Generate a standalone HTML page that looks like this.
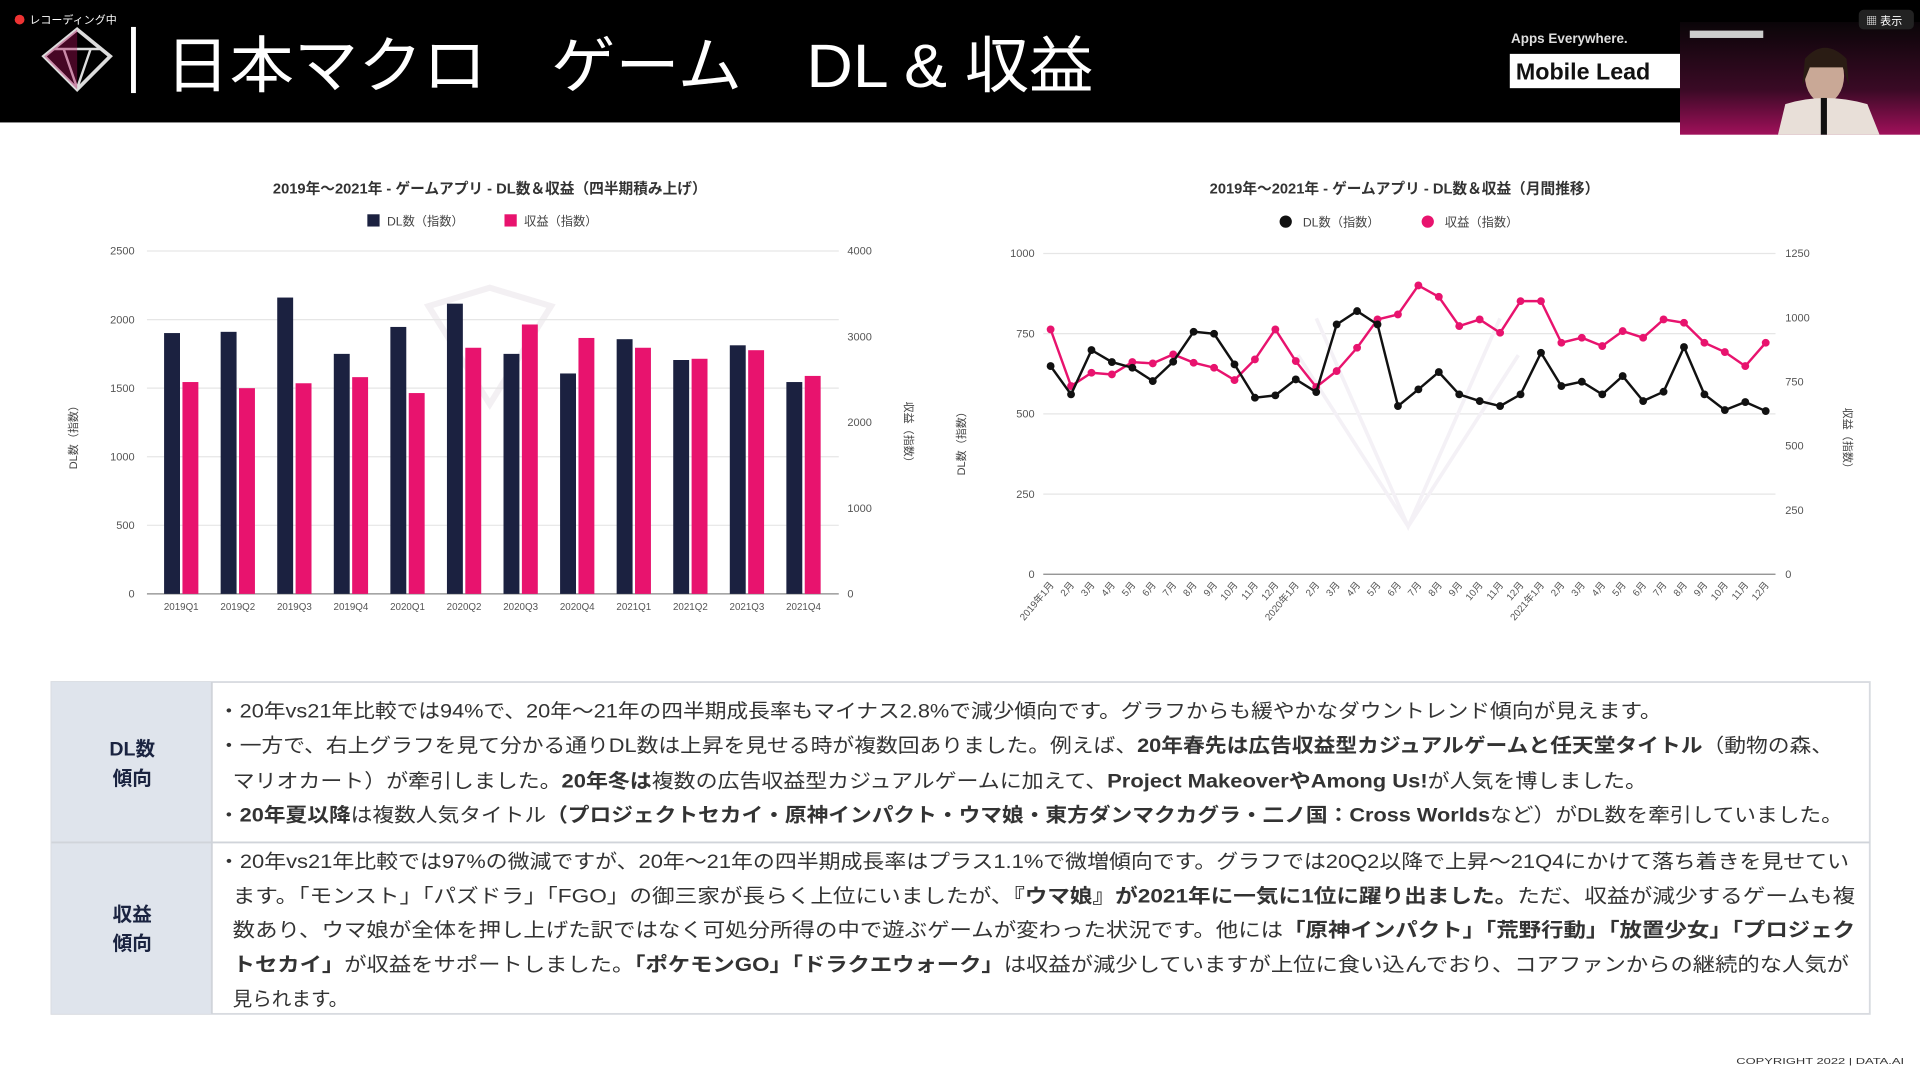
<!DOCTYPE html>
<html><head><meta charset="utf-8">
<style>
html,body{margin:0;padding:0;background:#fff;overflow:hidden}
svg{display:block}
text{font-family:"Liberation Sans","Noto Sans CJK JP",sans-serif}
</style></head>
<body>
<svg id="s" width="1920" height="1080" viewBox="0 0 1568 882" xmlns="http://www.w3.org/2000/svg">
<defs>
<linearGradient id="cam" x1="0" y1="0" x2="0" y2="1">
<stop offset="0" stop-color="#0a0508"/><stop offset="0.6" stop-color="#3a0a25"/><stop offset="1" stop-color="#a0105a"/>
</linearGradient>
</defs>
<rect x="0" y="0" width="1568" height="882" fill="#fff"/>
<rect x="0" y="0" width="1568" height="100" fill="#000"/>
<circle cx="16" cy="16" r="4" fill="#e33"/>
<text x="24" y="19" font-size="9" fill="#fff">レコーディング中</text>
<g fill="none" stroke="#ddd" stroke-width="3">
<polygon points="63,24 90,46 63,73 36,46"/>
<polyline points="44,40 82,40" stroke-width="2"/>
<polyline points="52,40 63,72 74,40" stroke-width="2"/>
</g>
<path d="M36,46 L63,24 L63,73 Z" fill="#b0105a" opacity="0.4"/>
<rect x="107" y="22" width="4" height="54" fill="#fff"/>
<text x="135" y="71" font-size="50" fill="#fff" textLength="758" lengthAdjust="spacingAndGlyphs">日本マクロ　ゲーム　DL &amp; 収益</text>
<text x="1234" y="35" font-size="11" font-weight="bold" fill="#ddd">Apps Everywhere.</text>
<rect x="1233" y="44" width="140" height="28" fill="#fff"/>
<text x="1238" y="65" font-size="19" font-weight="bold" fill="#111">Mobile Lead</text>
<rect x="1372" y="18" width="196" height="92" fill="url(#cam)"/>
<rect x="1380" y="25" width="60" height="6" fill="#ccc"/>
<ellipse cx="1490" cy="62" rx="16" ry="22" fill="#c9a896"/>
<path d="M1474,48 Q1490,30 1508,48 L1510,70 L1505,55 L1478,55 L1472,70 Z" fill="#2a1c14"/>
<path d="M1452,110 L1458,85 Q1490,75 1525,85 L1535,110 Z" fill="#e8dfd8"/>
<rect x="1487" y="80" width="5" height="30" fill="#111"/>
<rect x="1518" y="8" width="45" height="16" rx="4" fill="#222"/>
<text x="1524" y="20" font-size="9" fill="#fff">▦ 表示</text>
<g id="charts"></g>
<rect x="42" y="557" width="1485" height="271" fill="#fff" stroke="#d8dbe0" stroke-width="1.5"/>
<rect x="42" y="557" width="131" height="271" fill="#dfe4ec"/>
<line x1="42" y1="688" x2="1527" y2="688" stroke="#d0d4da" stroke-width="1.5"/>
<line x1="173" y1="557" x2="173" y2="828" stroke="#d0d4da" stroke-width="1.5"/>
<g font-size="16" font-weight="bold" fill="#1a2340" text-anchor="middle">
<text x="108" y="617">DL数</text><text x="108" y="641">傾向</text>
<text x="108" y="752">収益</text><text x="108" y="776">傾向</text>
</g>
<g font-size="16" fill="#333">
<text x="178" y="586" textLength="1179" lengthAdjust="spacingAndGlyphs">・20年vs21年比較では94%で、20年〜21年の四半期成長率もマイナス2.8%で減少傾向です。グラフからも緩やかなダウントレンド傾向が見えます。</text>
<text x="178" y="614" textLength="1319" lengthAdjust="spacingAndGlyphs">・一方で、右上グラフを見て分かる通りDL数は上昇を見せる時が複数回ありました。例えば、<tspan font-weight="bold">20年春先は広告収益型カジュアルゲームと任天堂タイトル</tspan>（動物の森、</text>
<text x="190" y="643" textLength="1155" lengthAdjust="spacingAndGlyphs">マリオカート）が牽引しました。<tspan font-weight="bold">20年冬は</tspan>複数の広告収益型カジュアルゲームに加えて、<tspan font-weight="bold">Project MakeoverやAmong Us!</tspan>が人気を博しました。</text>
<text x="178" y="671" textLength="1327" lengthAdjust="spacingAndGlyphs">・<tspan font-weight="bold">20年夏以降</tspan>は複数人気タイトル<tspan font-weight="bold">（プロジェクトセカイ・原神インパクト・ウマ娘・東方ダンマクカグラ・二ノ国：Cross Worlds</tspan>など）がDL数を牽引していました。</text>
<text x="178" y="709" textLength="1332" lengthAdjust="spacingAndGlyphs">・20年vs21年比較では97%の微減ですが、20年〜21年の四半期成長率はプラス1.1%で微増傾向です。グラフでは20Q2以降で上昇〜21Q4にかけて落ち着きを見せてい</text>
<text x="190" y="737" textLength="1325" lengthAdjust="spacingAndGlyphs">ます。「モンスト」「パズドラ」「FGO」の御三家が長らく上位にいましたが、<tspan font-weight="bold">『ウマ娘』が2021年に一気に1位に躍り出ました。</tspan>ただ、収益が減少するゲームも複</text>
<text x="190" y="765" textLength="1325" lengthAdjust="spacingAndGlyphs">数あり、ウマ娘が全体を押し上げた訳ではなく可処分所得の中で遊ぶゲームが変わった状況です。他には<tspan font-weight="bold">「原神インパクト」「荒野行動」「放置少女」「プロジェク</tspan></text>
<text x="190" y="793" textLength="1320" lengthAdjust="spacingAndGlyphs"><tspan font-weight="bold">トセカイ」</tspan>が収益をサポートしました。<tspan font-weight="bold">「ポケモンGO」「ドラクエウォーク」</tspan>は収益が減少していますが上位に食い込んでおり、コアファンからの継続的な人気が</text>
<text x="190" y="821">見られます。</text>
</g>
<text x="1418" y="869" font-size="7" fill="#333" textLength="137" lengthAdjust="spacingAndGlyphs">COPYRIGHT 2022 | DATA.AI</text>
</svg>
<script>
var NS="http://www.w3.org/2000/svg",g=document.getElementById("charts");
function el(t,a,txt){var e=document.createElementNS(NS,t);for(var k in a)e.setAttribute(k,a[k]);if(txt!=null)e.textContent=txt;g.appendChild(e);return e;}
var NAVY="#1b2140",PINK="#e8136e";
el("path",{d:"M350,250 L400,235 L450,250 L400,330 Z",fill:"none",stroke:"#f3f0f3","stroke-width":5});
el("text",{x:400,y:158,"font-size":12,"font-weight":"bold","text-anchor":"middle",fill:"#333"},"2019年〜2021年 - ゲームアプリ - DL数＆収益（四半期積み上げ）");
el("rect",{x:300,y:175,width:10,height:10,fill:NAVY});
el("text",{x:316,y:184,"font-size":10,fill:"#444"},"DL数（指数）");
el("rect",{x:412,y:175,width:10,height:10,fill:PINK});
el("text",{x:428,y:184,"font-size":10,fill:"#444"},"収益（指数）");
for(var i=0;i<=5;i++){var y=485-i*56;el("line",{x1:120,y1:y,x2:685,y2:y,stroke:i?"#e6e6e6":"#888","stroke-width":1});
el("text",{x:110,y:y+3,"font-size":9,"text-anchor":"end",fill:"#555"},String(i*500));}
for(var i=0;i<=4;i++){var y=485-i*70;el("text",{x:692,y:y+3,"font-size":9,fill:"#555"},String(i*1000));}
el("text",{transform:"translate(63,355) rotate(-90)","font-size":9,"text-anchor":"middle",fill:"#444"},"DL数（指数）");
el("text",{transform:"translate(739,355) rotate(90)","font-size":9,"text-anchor":"middle",fill:"#444"},"収益（指数）");
var nav=[272,271,243,289,267,248,289,305,277,294,282,312],pk=[312,317,313,308,321,284,265,276,284,293,286,307];
var ql=["2019Q1","2019Q2","2019Q3","2019Q4","2020Q1","2020Q2","2020Q3","2020Q4","2021Q1","2021Q2","2021Q3","2021Q4"];
for(var i=0;i<12;i++){var c=148+i*46.2;
el("rect",{x:c-14,y:nav[i],width:13,height:485-nav[i],fill:NAVY});
el("rect",{x:c+1,y:pk[i],width:13,height:485-pk[i],fill:PINK});
el("text",{x:c,y:498,"font-size":8,"text-anchor":"middle",fill:"#555"},ql[i]);}
el("text",{x:1147,y:158,"font-size":12,"font-weight":"bold","text-anchor":"middle",fill:"#333"},"2019年〜2021年 - ゲームアプリ - DL数＆収益（月間推移）");
el("circle",{cx:1050,cy:181,r:5,fill:"#111"});
el("text",{x:1064,y:185,"font-size":10,fill:"#444"},"DL数（指数）");
el("circle",{cx:1166,cy:181,r:5,fill:PINK});
el("text",{x:1180,y:185,"font-size":10,fill:"#444"},"収益（指数）");
var rl=["0","250","500","750","1000","1250"];
for(var i=0;i<=4;i++){var y=469-i*65.5;el("line",{x1:852,y1:y,x2:1450,y2:y,stroke:i?"#e6e6e6":"#888","stroke-width":1});
el("text",{x:845,y:y+3,"font-size":9,"text-anchor":"end",fill:"#555"},String(i*250));}
for(var i=0;i<=5;i++){el("text",{x:1458,y:(469-i*52.4+3).toFixed(1),"font-size":9,fill:"#555"},rl[i]);}
el("text",{transform:"translate(788,360) rotate(-90)","font-size":9,"text-anchor":"middle",fill:"#444"},"DL数（指数）");
el("text",{transform:"translate(1506,360) rotate(90)","font-size":9,"text-anchor":"middle",fill:"#444"},"収益（指数）");
el("path",{d:"M1060,290 L1150,430 L1240,290 M1075,260 L1150,430 L1225,260",fill:"none",stroke:"#f4f1f6","stroke-width":3});
var dl=[620,705,572,608,625,665,607,517,523,615,715,708,660,698,495,455,495,740,690,638,705,725,740,705,580,680,667,705,650,725,697,563,705,752,728,755];
var rv=[510,680,640,645,608,612,585,610,625,662,600,510,605,683,635,565,480,465,378,412,500,480,520,425,425,550,535,560,515,535,480,490,550,578,620,550];
function sx(i){return 858+i*584/35}
function sy(z){return 207+(z-282)*262/963}
function line(a,col){var p=a.map(function(z,i){return sx(i).toFixed(1)+","+sy(z).toFixed(1)}).join(" ");
el("polyline",{points:p,fill:"none",stroke:col,"stroke-width":2});
a.forEach(function(z,i){el("circle",{cx:sx(i),cy:sy(z),r:3.2,fill:col});});}
line(rv,PINK);line(dl,"#111");
for(var i=0;i<36;i++){var m=i%12,lab=(m==0?(2019+i/12)+"年1月":(m+1)+"月");
el("text",{transform:"translate("+(sx(i)+3)+",478) rotate(-50)","font-size":8,"text-anchor":"end",fill:"#555"},lab);}
</script>
</body></html>
